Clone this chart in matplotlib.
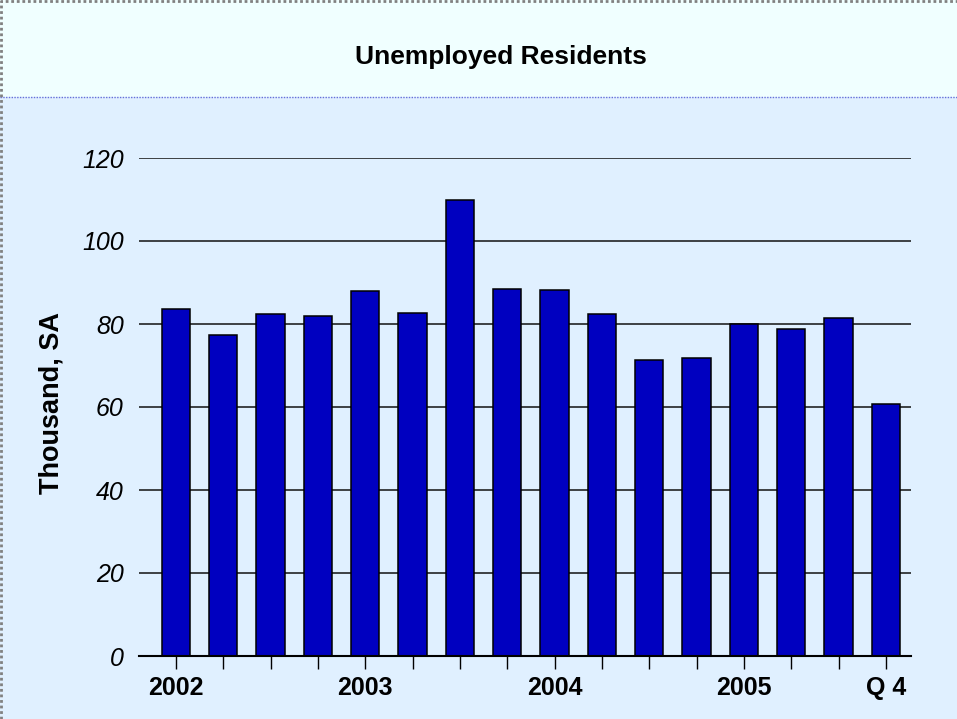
#!/usr/bin/env python3
# Unemployed residents, quarterly bar chart

import matplotlib
matplotlib.use('Agg')
import matplotlib.pyplot as plt
from matplotlib.patches import Rectangle
from matplotlib.lines import Line2D

plt.rcParams['font.family'] = ['Liberation Sans', 'DejaVu Sans']

# Data (thousand, seasonally adjusted), 2002 Q1 .. 2005 Q4
quarters = list(range(16))
values = [83.6, 77.4, 82.3, 82.0, 87.9, 82.7, 109.9, 88.5,
          88.2, 82.4, 71.3, 71.8, 80.0, 78.8, 81.5, 60.8]
tick_labels = ['2002', '', '', '', '2003', '', '', '',
               '2004', '', '', '', '2005', '', '', 'Q 4']
y_ticks = [0, 20, 40, 60, 80, 100, 120]

TITLE = 'Unemployed Residents'
Y_LABEL = 'Thousand, SA'

BAR_COLOR = '#0000C0'
PLOT_BG = '#E0F0FF'
TITLE_BG = '#F0FFFF'

W, H = 957, 719
fig = plt.figure(figsize=(W / 100, H / 100), dpi=100)
fig.patch.set_facecolor(PLOT_BG)

# Title band on top
band_h = 97 / H
fig.patches.append(Rectangle((0, 1 - band_h), 1, band_h, transform=fig.transFigure,
                             facecolor=TITLE_BG, edgecolor='none', zorder=0))
fig.lines.append(Line2D([0, 1], [1 - band_h, 1 - band_h], transform=fig.transFigure,
                        color='#6670D8', linewidth=1.0, linestyle=(0, (1, 1))))
# dotted frame on the left and top edges
fig.lines.append(Line2D([0.001, 0.001, 1], [0, 0.999, 0.999], transform=fig.transFigure,
                        color='#808080', linewidth=2.0, linestyle=(0, (1, 1)), zorder=5))

fig.text(501 / W, 1 - 57 / H, TITLE, ha='center', va='center',
         fontsize=19, fontweight='bold')

# Axes placement
left, right = 139 / W, 911 / W
bottom, top = 1 - 656 / H, 1 - 158 / H
ax = fig.add_axes([left, bottom, right - left, top - bottom])
ax.set_facecolor('none')

ax.bar(quarters, values, width=0.6, color=BAR_COLOR, edgecolor='black',
       linewidth=1.1, zorder=3)

ax.set_xlim(-0.78, 15.53)
ax.set_ylim(0, 120)

ax.set_yticks(y_ticks)
ax.set_yticklabels([str(v) for v in y_ticks], fontsize=18, fontstyle='italic')
ax.tick_params(axis='y', length=0, pad=11)
for v in y_ticks[1:]:
    ax.axhline(v, color='#111111', linewidth=1.1, zorder=1)

ax.set_xticks(quarters)
ax.set_xticklabels(tick_labels, fontsize=18, fontweight='bold')
ax.tick_params(axis='x', direction='out', length=9.5, width=1.0, pad=5, color='black')

for side in ['left', 'right', 'top']:
    ax.spines[side].set_visible(False)
ax.spines['bottom'].set_linewidth(1.5)
ax.spines['bottom'].set_zorder(4)

fig.text(52 / W, 1 - 403 / H, Y_LABEL, rotation=90, ha='center', va='center',
         fontsize=19.5, fontweight='bold')

fig.savefig('out.png', dpi=100, facecolor=fig.get_facecolor())
